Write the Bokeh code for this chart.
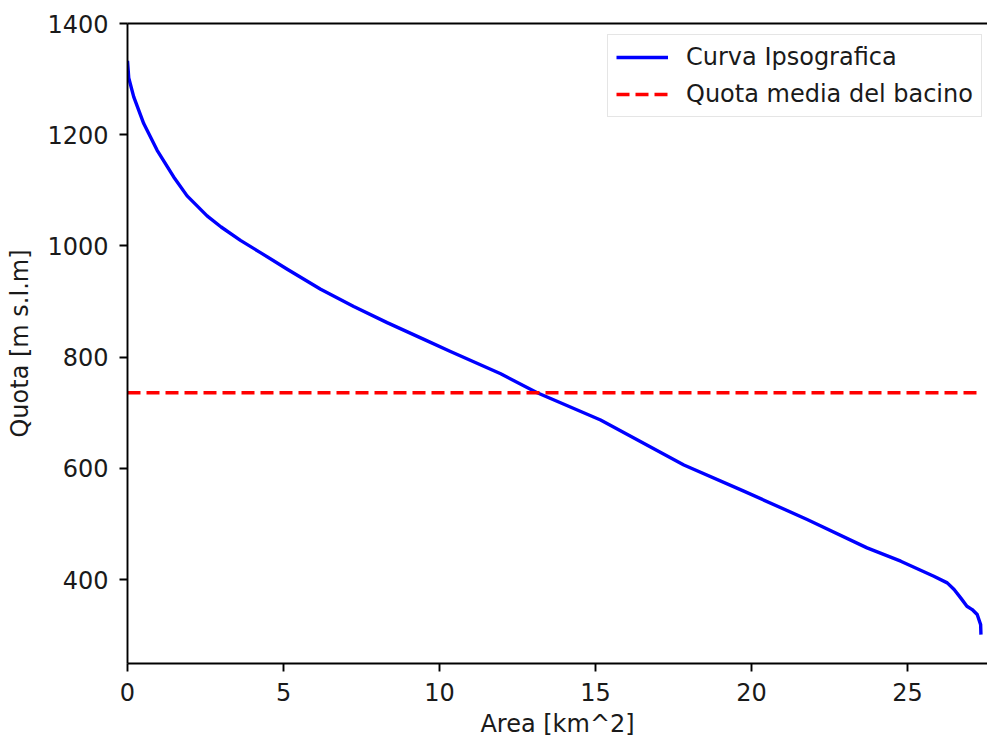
from bokeh.plotting import figure
from bokeh.models import FixedTicker, LinearAxis, Range1d, Legend, LegendItem
from bokeh.embed import file_html
from bokeh.resources import INLINE

# ---- data ----
area_km2 = [0.0, 0.04, 0.2, 0.52, 0.95, 1.48, 1.91, 2.55, 3.0, 3.62, 4.26, 5.12, 6.19,
            7.25, 8.32, 9.50, 10.35, 11.96, 13.13, 15.16, 17.83, 19.75, 21.78, 23.7,
            24.78, 25.84, 26.27, 26.49, 26.7, 26.9, 27.07, 27.23, 27.34, 27.35]
quota_m = [1333, 1302, 1268, 1220, 1172, 1124, 1090, 1054, 1034, 1010, 988, 958, 922,
           891, 862, 832, 810, 770, 736, 687, 606, 559, 508, 457,
           433, 406, 394, 382, 367, 352, 346, 337, 319, 301]
quota_media = 736
x_ticks = [0, 5, 10, 15, 20, 25]
y_ticks = [400, 600, 800, 1000, 1200, 1400]

FONT = "DejaVu Sans"
FS = "24px"

p = figure(width=987, height=740, output_backend="svg", toolbar_location=None,
           x_range=Range1d(0, 27.56), y_range=Range1d(249, 1400),
           min_border_left=127, min_border_top=23, min_border_right=0, min_border_bottom=76)
p.outline_line_color = None
p.grid.visible = False
p.background_fill_color = "white"
p.border_fill_color = "white"

curve = p.line(area_km2, quota_m, line_color="#0000ff", line_width=3.4,
               line_join="round")
mean_line = p.line([area_km2[0], area_km2[-1]], [quota_media, quota_media],
                   line_color="#ff0000", line_width=3.4, line_dash="13 6")

for ax in (p.xaxis[0], p.yaxis[0]):
    ax.axis_line_width = 1.9
    ax.axis_line_color = "black"
    ax.major_tick_line_width = 1.9
    ax.major_tick_line_color = "black"
    ax.major_tick_out = 8
    ax.major_tick_in = 0
    ax.minor_tick_out = 0
    ax.minor_tick_in = 0
    ax.major_label_text_font = FONT
    ax.major_label_text_font_size = FS
    ax.major_label_text_color = "#1a1a1a"
    ax.axis_label_text_font = FONT
    ax.axis_label_text_font_size = FS
    ax.axis_label_text_font_style = "normal"
    ax.axis_label_text_color = "#1a1a1a"

p.xaxis[0].ticker = FixedTicker(ticks=x_ticks)
p.yaxis[0].ticker = FixedTicker(ticks=y_ticks)
p.xaxis[0].axis_label = "Area [km^2]"
p.yaxis[0].axis_label = "Quota [m s.l.m]"
p.xaxis[0].major_label_standoff = 11
p.xaxis[0].axis_label_standoff = 6
p.yaxis[0].major_label_standoff = 11
p.yaxis[0].axis_label_standoff = 10

# top spine
top = LinearAxis(ticker=FixedTicker(ticks=[]), axis_line_width=1.9, axis_line_color="black",
                 major_tick_out=0, major_tick_in=0, minor_tick_out=0, minor_tick_in=0,
                 major_label_standoff=0)
p.add_layout(top, "above")

legend = Legend(items=[LegendItem(label="Curva Ipsografica", renderers=[curve]),
                       LegendItem(label="Quota media del bacino", renderers=[mean_line])],
                location=(480, 546), margin=0, padding=8, spacing=9,
                glyph_width=52, glyph_height=28, label_height=28, label_standoff=18,
                label_text_font=FONT, label_text_font_size=FS, label_text_color="#1a1a1a",
                border_line_color="#cccccc", border_line_width=1.5,
                background_fill_color="white", background_fill_alpha=0.8)
p.add_layout(legend, "center")

open("out.html", "w").write(file_html(p, INLINE))
